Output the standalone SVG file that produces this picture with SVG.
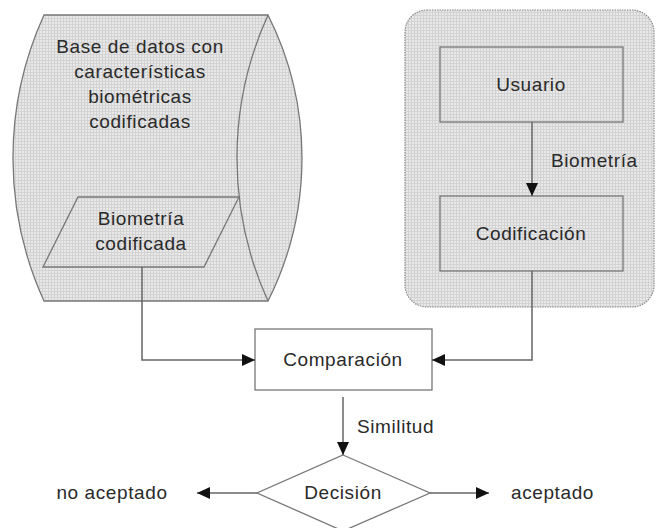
<svg xmlns="http://www.w3.org/2000/svg" width="656" height="528" viewBox="0 0 656 528">
<defs>
<pattern id="dots" width="3" height="3" patternUnits="userSpaceOnUse">
<rect width="3" height="3" fill="#e8e8e8"/>
<rect x="0" y="0" width="3" height="1" fill="#d3d3d3"/>
<rect x="0" y="0" width="1" height="3" fill="#d3d3d3"/>
</pattern>
<marker id="arr" markerWidth="13" markerHeight="12" refX="13" refY="6" orient="auto" markerUnits="userSpaceOnUse">
<path d="M0,0 L13,6 L0,12 Z" fill="#111"/>
</marker>
<style>
text{font-family:"Liberation Sans",Arial,sans-serif;font-size:19px;fill:#2a2a2a;letter-spacing:0.6px}
.c{text-anchor:middle}
.box{fill:none;stroke:#777;stroke-width:1.3}
.wbox{fill:#fff;stroke:#777;stroke-width:1.3}
.con{fill:none;stroke:#666;stroke-width:1.5}
.shape{stroke:#777;stroke-width:1.3}
</style>
</defs>
<g id="database">
<path class="shape" fill="url(#dots)" d="M44,15 L268,15 A318,318 0 0 1 268,301 L44,301 A345,345 0 0 1 44,15 Z"/>
<path class="shape" fill="none" d="M268,15 A345,345 0 0 0 268,301"/>
<text class="c" x="140" y="53">Base de datos con</text>
<text class="c" x="140" y="78">características</text>
<text class="c" x="140" y="103">biométricas</text>
<text class="c" x="140" y="128">codificadas</text>
</g>
<g id="biometria-codificada">
<path class="shape" fill="none" d="M78,197 L239,197 L204,267 L43,267 Z"/>
<text class="c" x="141" y="225">Biometría</text>
<text class="c" x="141" y="250">codificada</text>
</g>
<g id="panel">
<rect x="405" y="10" width="249" height="297" rx="22" ry="22" fill="url(#dots)" stroke="#8a8a8a" stroke-width="1.2" stroke-dasharray="1.5,1"/>
</g>
<g id="usuario">
<rect class="box" x="440" y="47" width="183" height="75"/>
<text class="c" x="531" y="91">Usuario</text>
</g>
<g id="codificacion">
<rect class="box" x="440" y="196" width="183" height="75"/>
<text class="c" x="531" y="240">Codificación</text>
</g>
<g id="comparacion">
<rect class="wbox" x="255" y="329" width="177" height="61"/>
<text class="c" x="343" y="366">Comparación</text>
</g>
<g id="decision">
<path class="wbox" d="M343,455 L430,493 L343,531 L257,493 Z"/>
<text class="c" x="343" y="499">Decisión</text>
</g>
<g id="no-aceptado">
<text class="c" x="112" y="499">no aceptado</text>
</g>
<g id="aceptado">
<text x="511" y="499">aceptado</text>
</g>
<g id="connectors">
<path class="con" d="M532,122 L532,196" marker-end="url(#arr)"/>
<text x="551" y="167">Biometría</text>
<path class="con" d="M142,267 L142,360 L255,360" marker-end="url(#arr)"/>
<path class="con" d="M532,271 L532,360 L432,360" marker-end="url(#arr)"/>
<path class="con" d="M343,397 L343,455" marker-end="url(#arr)"/>
<text x="357" y="433">Similitud</text>
<path class="con" d="M257,493 L197,493" marker-end="url(#arr)"/>
<path class="con" d="M430,493 L489,493" marker-end="url(#arr)"/>
</g>
</svg>
